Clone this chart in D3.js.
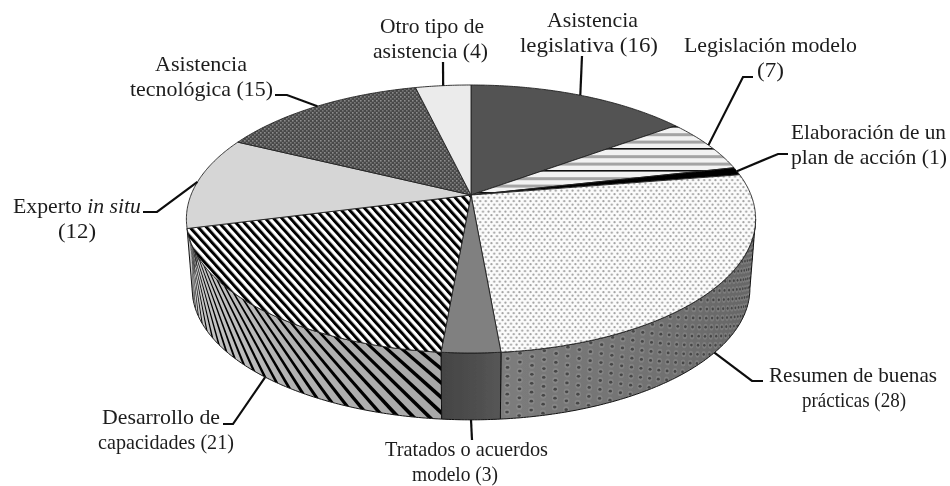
<!DOCTYPE html>
<html>
<head>
<meta charset="utf-8">
<script src="https://cdn.jsdelivr.net/npm/d3@7"></script>
<style>
  html, body { margin: 0; padding: 0; background: #fff; }
  svg { display: block; }
  text { font-family: "Liberation Serif", serif; font-size: 21.5px; fill: #1c1c1c; }
</style>
</head>
<body>
<div id="svg-container"></div>
<script>
////////////////////////////////////////////////////////////////////
////////////////////////////  Data  /////////////////////////////////
const categories = [
  "Asistencia legislativa",
  "Legislación modelo",
  "Elaboración de un plan de acción",
  "Resumen de buenas prácticas",
  "Tratados o acuerdos modelo",
  "Desarrollo de capacidades",
  "Experto in situ",
  "Asistencia tecnológica",
  "Otro tipo de asistencia",
];
const values = [16, 7, 1, 28, 3, 21, 12, 15, 4];
const labelLines = [
  ["Asistencia", "legislativa (16)"],
  ["Legislación modelo", "(7)"],
  ["Elaboración de un", "plan de acción (1)"],
  ["Resumen de buenas", "prácticas (28)"],
  ["Tratados o acuerdos", "modelo (3)"],
  ["Desarrollo de", "capacidades (21)"],
  ["Experto in situ", "(12)"],
  ["Asistencia", "tecnológica (15)"],
  ["Otro tipo de", "asistencia (4)"],
];

////////////////////////////////////////////////////////////////////
////////////////////////////  Init  /////////////////////////////////
const width = 950;
const height = 486;

const svg = d3
  .select("#svg-container")
  .append("svg")
  .attr("width", width)
  .attr("height", height);
const defs = svg.append("defs");

// 3d pie: the top disc goes through a perspective divide, the bottom one is a bit smaller
const pie3d = { cx: 471, cy: 195, a: 280, b: 129.7, k: 0.179, floorDrop: 70, floorScale: 0.98 };

const project = (theta, level) => {
  const w = 1 + pie3d.k * Math.cos(theta);
  const s = level === 1 ? pie3d.floorScale : 1;
  return [
    pie3d.cx + (s * pie3d.a * Math.sin(theta)) / w,
    pie3d.cy + (level === 1 ? pie3d.floorDrop : 0) - (s * pie3d.b * Math.cos(theta)) / w,
  ];
};

const arcPoints = (t0, t1, level) => {
  const n = Math.max(2, Math.ceil(Math.abs(t1 - t0) / 0.01));
  return d3.range(n + 1).map((i) => project(t0 + ((t1 - t0) * i) / n, level));
};

const line = d3.line();
const rad = (deg) => (deg * Math.PI) / 180;

const arcs = d3.pie().sort(null).startAngle(0).endAngle(2 * Math.PI)(values);

// left and right silhouette of the disc
const wallStart = Math.PI - Math.acos(pie3d.k);
const wallEnd = Math.PI + Math.acos(pie3d.k);

////////////////////////////////////////////////////////////////////
////////////////////////////  Patterns  /////////////////////////////
// the reference is a soft scan, everything gets a little blur
const soft = defs.append("filter").attr("id", "soft");
soft.append("feGaussianBlur").attr("stdDeviation", 0.35);
const softWall = defs.append("filter").attr("id", "softWall");
softWall.append("feGaussianBlur").attr("stdDeviation", 0.7);

const stripes = defs
  .append("pattern")
  .attr("id", "hstripes")
  .attr("patternUnits", "userSpaceOnUse")
  .attr("width", 8)
  .attr("height", 22);
stripes.append("rect").attr("width", 8).attr("height", 22).attr("fill", "#f2f2f2");
[[16, 1.6, "#111"], [1.2, 3, "#a4a4a4"], [8.6, 3, "#a4a4a4"]].forEach((d) => {
  stripes.append("rect").attr("y", d[0]).attr("width", 8).attr("height", d[1]).attr("fill", d[2]);
});

const dots = defs
  .append("pattern")
  .attr("id", "dots")
  .attr("patternUnits", "userSpaceOnUse")
  .attr("width", 5.6)
  .attr("height", 7);
dots.append("rect").attr("width", 5.6).attr("height", 7).attr("fill", "#fbfbfb");
[[1.4, 1.7], [4.2, 5.2]].forEach((d) => {
  dots.append("circle").attr("cx", d[0]).attr("cy", d[1]).attr("r", 1.1).attr("fill", "#a0a0a0");
});

const diag = defs
  .append("pattern")
  .attr("id", "diag")
  .attr("patternUnits", "userSpaceOnUse")
  .attr("width", 6.2)
  .attr("height", 6.2)
  .attr("patternTransform", "rotate(-42)");
diag.append("rect").attr("width", 6.2).attr("height", 6.2).attr("fill", "#fff");
diag.append("rect").attr("width", 3).attr("height", 6.2).attr("fill", "#000");

const mesh = defs
  .append("pattern")
  .attr("id", "mesh")
  .attr("patternUnits", "userSpaceOnUse")
  .attr("width", 4)
  .attr("height", 4);
mesh.append("rect").attr("width", 4).attr("height", 4).attr("fill", "#484848");
mesh.append("rect").attr("x", 0).attr("y", 0).attr("width", 1.6).attr("height", 1.6).attr("fill", "#8c8c8c");
mesh.append("rect").attr("x", 2).attr("y", 2).attr("width", 1.6).attr("height", 1.6).attr("fill", "#7a7a7a");

const gradient = (id, stops) => {
  const g = defs
    .append("linearGradient")
    .attr("id", id)
    .attr("gradientUnits", "objectBoundingBox");
  stops.forEach((s) => g.append("stop").attr("offset", s[0]).attr("stop-color", s[1]));
};
gradient("wallDots", [[0, "#7c7c7c"], [0.6, "#727272"], [1, "#666"]]);
gradient("wallDark", [[0, "#444"], [1, "#565656"]]);
gradient("wallStripes", [[0, "#c8c8c8"], [0.35, "#b4b4b4"], [1, "#a8a8a8"]]);

const topFills = ["#525252", "url(#hstripes)", "#000", "url(#dots)", "#808080", "url(#diag)", "#d6d6d6", "url(#mesh)", "#ebebeb"];
const wallFills = { 3: "url(#wallDots)", 4: "url(#wallDark)", 5: "url(#wallStripes)" };

const chart = svg.append("g").attr("class", "chart").attr("filter", "url(#soft)");

////////////////////////////////////////////////////////////////////
////////////////////////////  Walls  ////////////////////////////////
const wallPath = (t0, t1) =>
  line(arcPoints(t0, t1, 0).concat(arcPoints(t1, t0, 1))) + "Z";

const walls = chart.append("g").attr("class", "walls");

arcs.forEach((d, i) => {
  if (!wallFills[i]) return;
  const t0 = Math.max(d.startAngle, wallStart);
  const t1 = Math.min(d.endAngle, wallEnd);

  defs.append("clipPath").attr("id", `clip-${i}`).append("path").attr("d", wallPath(t0, t1));

  walls.append("path").attr("d", wallPath(t0, t1)).attr("fill", wallFills[i]);

  const deco = walls.append("g").attr("clip-path", `url(#clip-${i})`);

  // texture follows the curved wall, so it gets tighter towards the sides
  if (i === 5) {
    const slant = rad(14);
    const band = rad(1.0);
    d3.range(t0 - rad(20), t1 + rad(20), rad(3.05)).forEach((t) => {
      deco
        .append("path")
        .attr("d", line([project(t + slant, 0), project(t + slant + band, 0), project(t + band, 1), project(t, 1)]) + "Z")
        .attr("fill", "#000")
        .attr("filter", "url(#softWall)");
    });
  }
  if (i === 3) {
    d3.range(t0, t1, rad(2.1)).forEach((t, col) => {
      d3.range(0, 8).forEach((row) => {
        const f = (row + (col % 2 ? 0.75 : 0.25)) / 7.5;
        const a = project(t, 0);
        const b = project(t, 1);
        const x = a[0] + (b[0] - a[0]) * f;
        const y = a[1] + (b[1] - a[1]) * f;
        const squeeze = Math.max(0.3, Math.abs(Math.cos(t)));
        deco
          .append("ellipse")
          .attr("cx", x)
          .attr("cy", y)
          .attr("rx", 3.2 * squeeze)
          .attr("ry", 3.4)
          .attr("fill", "#a0a0a0")
          .attr("opacity", 0.35)
          .attr("filter", "url(#soft)");
        deco
          .append("ellipse")
          .attr("cx", x)
          .attr("cy", y)
          .attr("rx", 1.8 * squeeze)
          .attr("ry", 1.4)
          .attr("fill", "#454545")
          .attr("filter", "url(#soft)");
      });
    });
  }

  walls
    .append("path")
    .attr("d", wallPath(t0, t1))
    .attr("fill", "none")
    .attr("stroke", "#111")
    .attr("stroke-width", 1);
});

////////////////////////////////////////////////////////////////////
////////////////////////////  Top disc  /////////////////////////////
const slicePath = (d) =>
  line([[pie3d.cx, pie3d.cy]].concat(arcPoints(d.startAngle, d.endAngle, 0))) + "Z";

chart
  .append("g")
  .attr("class", "slices")
  .selectAll("path")
  .data(arcs)
  .join("path")
  .attr("d", slicePath)
  .attr("fill", (d, i) => topFills[i])
  .attr("stroke", "#222")
  .attr("stroke-width", 0.9)
  .attr("stroke-linejoin", "round");

////////////////////////////////////////////////////////////////////
////////////////////////////  Labels  ///////////////////////////////
// first baseline, left/right end of both text lines + elbow of the leader, in data order
const labelLayout = [
  { y: 27, ends: [[547, 638], [520, 658]], elbow: [[582, 56]] },
  { y: 52, ends: [[684, 857], [757, 784]], elbow: [[753, 77], [743, 77]] },
  { y: 139, ends: [[791, 946], [791, 947]], elbow: [[788, 154], [778, 154]] },
  { y: 382, ends: [[769, 937], [802, 906]], elbow: [[763, 381], [752, 381]] },
  { y: 456, ends: [[385, 548], [412, 498]], elbow: [[472, 440]] },
  { y: 424, ends: [[102, 220], [98, 234]], elbow: [[223, 424], [233, 424]] },
  { y: 213, ends: [[13, 141], [58, 96]], elbow: [[143, 212], [157, 212]] },
  { y: 71, ends: [[155, 247], [130, 273]], elbow: [[275, 95], [287, 95]] },
  { y: 33, ends: [[380, 484], [373, 488]], elbow: [[443, 62]] },
];
const lineGap = 24.6;

const labels = chart.append("g").attr("class", "labels");

arcs.forEach((d, i) => {
  const mid = (d.startAngle + d.endAngle) / 2;
  const onWall = mid > wallStart && mid < wallEnd;
  const anchorPoint = project(mid, onWall ? 1 : 0);
  const lay = labelLayout[i];

  labels
    .append("path")
    .attr("d", line(lay.elbow.concat([anchorPoint])))
    .attr("fill", "none")
    .attr("stroke", "#111")
    .attr("stroke-width", 2.2);

  labelLines[i].forEach((txt, j) => {
    const t = labels
      .append("text")
      .attr("x", lay.ends[j][0])
      .attr("y", lay.y + j * lineGap)
      .attr("textLength", lay.ends[j][1] - lay.ends[j][0])
      .attr("lengthAdjust", "spacingAndGlyphs");
    if (txt.includes("in situ")) {
      t.append("tspan").text(txt.replace("in situ", ""));
      t.append("tspan").attr("font-style", "italic").text("in situ");
    } else {
      t.text(txt);
    }
  });
});
</script>
</body>
</html>
